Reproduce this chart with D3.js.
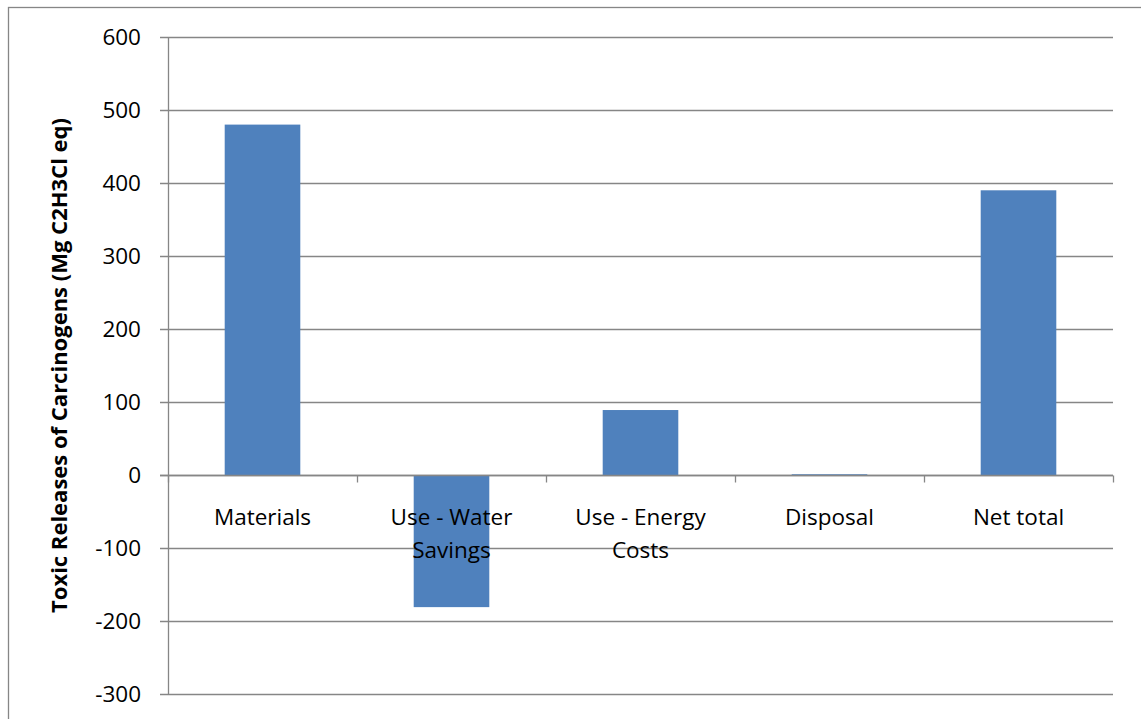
<!DOCTYPE html>
<html><head><meta charset="utf-8">
<script src="https://cdn.jsdelivr.net/npm/d3@7"></script>
<style>body{margin:0;background:#fff;} svg{display:block;}</style>
</head><body>
<svg id="c" width="1141" height="719"></svg>
<script>
const categories = ["Materials", "Use - Water Savings", "Use - Energy Costs", "Disposal", "Net total"];
const categoryLines = [["Materials"], ["Use - Water", "Savings"], ["Use - Energy", "Costs"], ["Disposal"], ["Net total"]];
const values = [480, -181, 89, 1, 390];
const yTicks = [600, 500, 400, 300, 200, 100, 0, -100, -200, -300];
const yTitle = "Toxic Releases of Carcinogens (Mg C2H3Cl eq)";

(function () {
const svg = d3.select("#c");
const font = "'Open Sans', 'Liberation Sans', sans-serif";
const grid = "#868686";

// outer chart border
svg.append("rect").attr("x", 8.5).attr("y", 7.5).attr("width", 1150).attr("height", 730)
  .attr("fill", "none").attr("stroke", grid).attr("stroke-width", 1.3);

const pLeft = 168, pRight = 1113, pTop = 37, pBottom = 694;
const y = d3.scaleLinear().domain([-300, 600]).range([pBottom, pTop]);
const x = d3.scaleBand().domain(categories).range([pLeft, pRight]).paddingInner(0).paddingOuter(0);

// gridlines
svg.append("g").selectAll("line").data(yTicks).join("line")
  .attr("x1", pLeft - 8).attr("x2", pRight)
  .attr("y1", d => Math.round(y(d)) + 0.5).attr("y2", d => Math.round(y(d)) + 0.5)
  .attr("stroke", grid).attr("stroke-width", 1.3);

// y axis line
svg.append("line").attr("x1", pLeft + 0.5).attr("x2", pLeft + 0.5).attr("y1", pTop).attr("y2", pBottom)
  .attr("stroke", grid).attr("stroke-width", 1.3);

// y tick labels
svg.append("g").selectAll("text").data(yTicks).join("text")
  .attr("x", pLeft - 27).attr("y", d => y(d)).attr("dy", "0.36em")
  .attr("text-anchor", "end").attr("font-family", font).attr("font-size", 22.5).attr("fill", "#000")
  .text(d => d);

// bars
const bw = x.bandwidth() * 0.4;
svg.append("g").selectAll("rect").data(values).join("rect")
  .attr("x", (d, i) => x(categories[i]) + (x.bandwidth() - bw) / 2)
  .attr("width", bw)
  .attr("y", d => y(Math.max(0, d)))
  .attr("height", d => Math.abs(y(d) - y(0)))
  .attr("fill", "#4F81BD");

// zero line redrawn on top of bars
const y0 = Math.round(y(0)) + 0.5;
svg.append("line").attr("x1", pLeft - 8).attr("x2", pRight).attr("y1", y0).attr("y2", y0)
  .attr("stroke", grid).attr("stroke-width", 1.3);

// category ticks
const tickXs = categories.map(c => x(c)).concat([pRight]);
svg.append("g").selectAll("line").data(tickXs).join("line")
  .attr("x1", d => Math.round(d) + 0.5).attr("x2", d => Math.round(d) + 0.5)
  .attr("y1", y0).attr("y2", y0 + 7)
  .attr("stroke", grid).attr("stroke-width", 1.3);

// category labels
categoryLines.forEach((lines, i) => {
  const cx = x(categories[i]) + x.bandwidth() / 2;
  lines.forEach((t, j) => {
    svg.append("text").attr("x", cx).attr("y", 517 + j * 33).attr("dy", "0.36em")
      .attr("text-anchor", "middle").attr("font-family", font).attr("font-size", 22.5).attr("fill", "#000")
      .text(t);
  });
});

// y title
svg.append("text").attr("transform", `translate(59,${(pTop + pBottom) / 2}) rotate(-90)`)
  .attr("dy", "0.36em").attr("text-anchor", "middle").attr("font-family", font)
  .attr("font-weight", "bold").attr("font-size", 22).attr("fill", "#000")
  .text(yTitle);
})();
</script>
</body></html>
